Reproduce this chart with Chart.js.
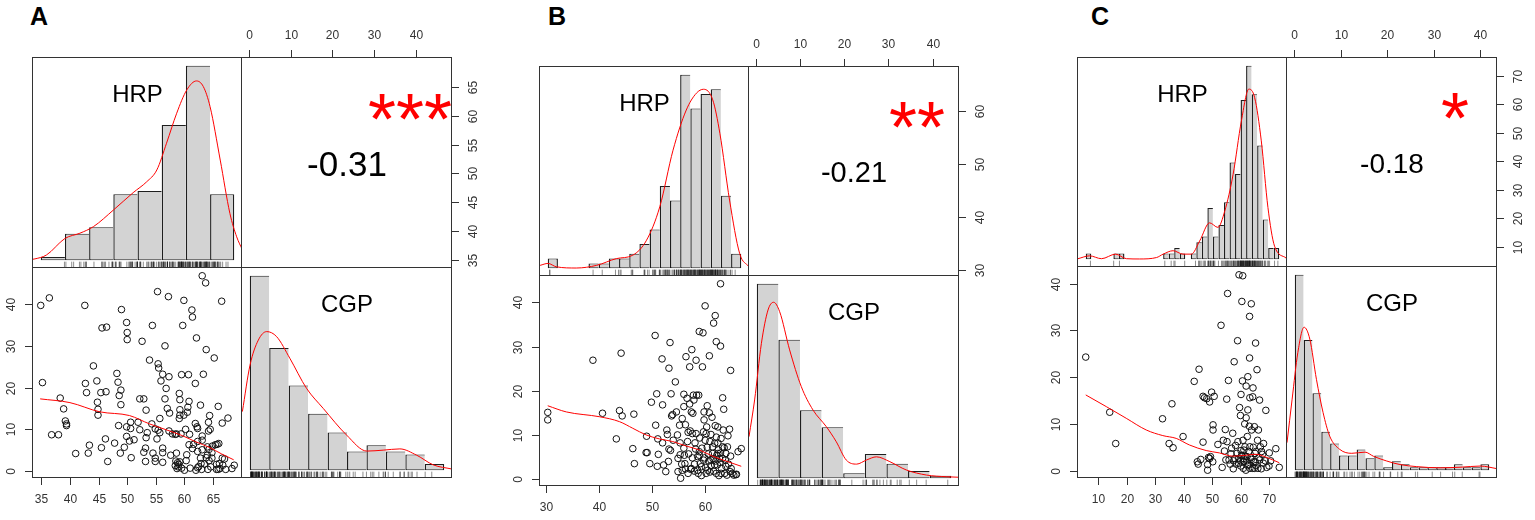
<!DOCTYPE html>
<html>
<head>
<meta charset="utf-8">
<title>HRP / CGP correlation panels</title>
<script src="https://cdn.jsdelivr.net/npm/chart.js@4.4.1/dist/chart.umd.min.js"></script>
<style>
  html, body { margin: 0; padding: 0; background: #fff; }
  #stage { position: relative; width: 1535px; height: 520px; overflow: hidden; }
  #stage canvas { position: absolute; }
  .tag { position: absolute; font: bold 25px "Liberation Sans", Arial, sans-serif; line-height: 25px; color: #000; }
</style>
</head>
<body>
<div id="stage">
  <div class="tag" style="left:30px;top:4px">A</div>
  <div class="tag" style="left:548px;top:4px">B</div>
  <div class="tag" style="left:1091px;top:4px">C</div>
</div>
<script>
// ---------- data ----------
// scatter points: [HRP, CGP]
const scatterA = [
  [34.9,39.7],[36.4,41.5],[35.2,21.2],[36.8,8.7],[38.0,8.7],[38.3,17.5],[38.9,14.9],[39.2,12.0],[39.4,11.3],[39.4,10.9],
  [41.0,4.2],[42.6,39.7],[42.7,21.0],[42.9,18.8],[43.2,4.3],[43.4,6.2],[44.1,25.2],[44.7,21.6],[44.8,16.5],[44.9,14.8],
  [44.9,13.4],[45.5,5.6],[45.6,34.3],[46.4,34.5],[45.4,18.8],[46.3,19.0],[46.2,7.7],[46.6,2.3],[47.8,6.7],[48.2,23.4],
  [48.4,21.3],[48.6,18.1],[48.9,19.4],[48.9,15.9],[48.5,10.9],[48.8,4.3],[49.0,38.7],[49.5,5.7],[49.9,35.6],[50.0,33.2],
  [50.0,31.5],[49.9,10.6],[49.9,8.3],[50.4,7.2],[50.6,11.7],[50.6,10.2],[50.7,3.2],[51.2,7.5],[51.9,11.7],[52.2,9.9],
  [52.2,17.3],[52.9,17.3],[52.6,31.1],[52.9,4.5],[53.2,5.5],[53.2,2.3],[53.3,8.0],[53.3,14.6],[53.5,9.2],[53.9,26.6],
  [54.3,11.3],[54.4,34.9],[54.5,4.3],[54.9,3.1],[54.9,2.3],[54.9,10.1],[55.2,7.7],[55.3,43.0],[55.4,25.7],[55.5,24.7],
  [55.4,9.8],[55.7,9.2],[55.7,12.6],[55.9,21.6],[56.2,23.2],[56.2,4.4],[56.2,5.5],[56.2,2.1],[56.6,30.0],[56.6,17.3],
  [56.8,19.8],[57.0,15.0],[57.2,41.8],[57.3,22.6],[57.4,13.9],[57.3,9.6],[57.6,3.8],[57.9,8.9],[58.4,1.3],[58.4,8.8],
  [58.6,4.3],[58.6,8.9],[58.8,2.0],[58.9,1.0],[59.0,1.6],[59.1,12.6],[59.2,14.7],[59.1,18.6],[59.2,17.1],[59.2,13.4],
  [59.4,8.9],[59.5,23.1],[59.5,0.7],[59.7,34.9],[59.9,40.9],[59.9,13.4],[60.0,0.2],[60.2,10.0],[60.3,2.5],[60.4,3.9],
  [60.5,14.1],[60.6,15.3],[60.7,23.1],[60.8,16.7],[60.8,6.3],[60.9,8.8],[61.0,0.7],[61.3,38.6],[61.4,36.9],[61.4,5.4],
  [61.6,6.4],[61.9,11.4],[61.9,21.0],[62.0,0.2],[62.1,31.9],[62.2,10.6],[62.3,10.2],[62.3,4.7],[62.3,7.1],[62.3,0.8],
  [62.5,1.1],[62.8,15.8],[62.8,3.1],[62.9,1.8],[63.0,0.4],[63.1,8.4],[63.1,7.4],[63.1,5.1],[63.3,23.2],[63.1,46.8],
  [63.7,45.1],[63.5,1.7],[63.8,3.2],[63.8,29.1],[64.0,5.8],[64.0,3.8],[64.1,0.4],[64.2,9.6],[64.2,11.7],[64.3,2.5],
  [64.3,5.2],[64.4,13.3],[64.5,10.0],[64.6,1.0],[64.8,4.4],[64.8,3.1],[64.9,6.0],[65.2,27.1],[65.4,6.3],[65.6,1.6],
  [65.6,0.4],[65.7,6.4],[65.9,0.4],[65.9,15.5],[66.0,6.6],[66.1,1.8],[66.2,0.6],[66.5,40.7],[66.6,11.5],[66.6,3.1],
  [66.7,1.4],[67.0,2.9],[67.2,0.4],[67.6,12.7],[68.3,0.6],[68.7,1.4],[58.7,0.6],[59.2,2.2],[58.5,2.4]
];
const scatterB = [
  [30.4,15.1],[30.4,13.4],[38.9,26.9],[40.7,14.9],[43.9,15.5],[44.4,14.3],[44.2,28.5],[43.3,9.1],[46.6,14.7],[46.4,6.9],
  [46.7,3.5],[48.9,6.0],[49.1,6.0],[49.0,9.7],[49.6,3.5],[49.9,17.4],[50.6,32.5],[50.7,12.2],[50.9,19.3],[51.1,9.1],
  [51.0,2.9],[51.2,5.6],[51.9,27.2],[52.0,16.8],[52.0,8.2],[52.2,3.2],[52.6,1.7],[52.8,11.1],[52.9,10.1],[53.1,4.0],
  [53.2,6.8],[53.2,25.1],[53.4,30.9],[53.5,6.5],[53.6,19.3],[53.7,14.3],[53.9,14.6],[54.0,8.8],[54.4,22.0],[54.6,15.2],
  [54.8,10.0],[54.9,4.7],[54.9,1.7],[55.2,12.2],[55.3,8.2],[55.3,5.5],[55.4,0.2],[55.6,3.4],[55.7,13.7],[56.0,19.2],
  [56.0,16.4],[56.0,7.0],[56.1,5.4],[56.2,3.5],[56.3,2.3],[56.3,12.3],[56.4,27.7],[56.6,18.3],[56.7,8.5],[56.8,10.6],
  [56.9,5.7],[57.1,17.0],[57.1,25.4],[57.2,10.9],[57.3,2.2],[57.4,15.2],[57.5,29.3],[57.6,10.3],[57.6,4.8],[57.7,14.9],
  [57.8,19.0],[57.9,17.9],[58.0,1.8],[58.1,8.2],[58.2,6.8],[58.3,26.9],[58.4,19.0],[58.6,5.1],[58.7,1.3],[58.8,19.0],
  [58.9,6.2],[58.9,33.4],[59.0,9.3],[59.1,3.5],[59.3,0.8],[59.4,7.0],[59.5,25.4],[59.6,33.1],[59.7,10.7],[59.8,13.4],
  [59.8,15.2],[59.9,4.8],[60.0,39.2],[60.0,8.8],[60.1,2.6],[60.2,1.3],[60.3,11.8],[60.4,16.6],[60.4,7.2],[60.6,5.7],
  [60.7,4.1],[60.8,15.0],[60.8,27.9],[60.9,8.5],[60.9,1.6],[61.1,3.0],[61.1,10.1],[61.3,14.0],[61.4,5.8],[61.5,4.6],
  [61.6,35.3],[61.6,1.8],[61.8,8.1],[61.9,37.0],[61.9,12.1],[62.0,4.1],[62.1,31.1],[62.1,9.5],[62.2,5.4],[62.3,3.2],
  [62.4,11.8],[62.4,8.2],[62.5,6.6],[62.6,0.8],[62.8,3.8],[62.9,44.2],[62.9,30.1],[62.9,5.9],[63.0,9.2],[63.1,2.4],
  [63.3,18.4],[63.3,4.7],[63.4,11.1],[63.5,15.8],[63.6,7.1],[63.7,1.3],[63.8,4.3],[63.9,2.9],[64.1,0.9],[64.3,9.8],
  [64.4,3.4],[64.6,11.3],[64.7,1.7],[64.8,24.6],[64.8,5.2],[64.9,2.4],[65.1,1.3],[65.4,0.9],[65.8,1.0],[65.9,1.1],
  [66.2,6.2],[66.8,6.9],[58.0,3.4],[58.6,2.0],[59.3,2.8],[58.9,5.4],[59.7,4.3],[61.4,7.3],[62.4,5.8],[63.3,7.3],
  [62.7,4.7],[61.8,3.2],[60.5,2.0],[63.9,5.8],[64.2,7.3],[57.4,2.4],[56.8,1.3],[55.7,2.0],[58.3,10.3],[60.2,10.3],
  [61.1,4.3],[62.1,1.3],[63.0,1.3]
];
const scatterC = [
  [5.7,24.3],[14.1,12.5],[16.2,5.8],[32.6,11.1],[35.9,14.3],[34.9,5.8],[36.3,4.9],[39.8,7.3],[43.7,19.1],[45.4,21.7],
  [46.8,15.9],[47.3,15.6],[48.1,15.4],[46.8,6.1],[44.8,1.9],[45.1,1.4],[46.0,2.4],[48.7,2.8],[48.4,1.3],[48.4,0.1],
  [49.1,14.7],[49.1,2.6],[49.4,3.0],[49.8,16.8],[50.3,9.8],[50.3,8.7],[50.7,15.9],[50.2,1.9],[52.0,5.6],[53.1,31.1],
  [53.5,0.7],[53.9,6.5],[54.3,4.2],[54.6,8.8],[55.1,15.3],[55.2,6.2],[55.4,37.9],[55.7,19.3],[55.9,2.3],[56.3,1.4],
  [56.6,3.6],[56.8,4.8],[57.2,8.0],[57.4,0.4],[57.7,23.3],[57.9,2.6],[58.2,5.4],[58.4,1.4],[58.7,3.7],[58.9,27.8],
  [59.0,6.2],[59.3,2.6],[59.4,41.9],[59.6,13.5],[59.9,11.8],[60.0,1.0],[60.1,16.3],[60.1,4.3],[60.3,3.2],[60.4,36.2],
  [60.6,19.2],[60.7,41.7],[60.8,6.5],[60.9,0.5],[61.1,1.9],[61.4,10.0],[61.5,5.1],[61.7,3.1],[61.9,18.1],[61.9,11.3],
  [62.2,2.1],[62.3,7.3],[62.4,1.1],[62.5,20.1],[62.5,13.0],[62.8,4.1],[63.0,9.5],[63.1,33.0],[63.1,24.1],[63.2,15.6],
  [63.2,0.5],[63.5,2.8],[63.7,35.7],[63.8,8.7],[64.2,15.8],[64.3,17.7],[64.4,5.0],[64.5,1.9],[64.8,9.4],[65.0,3.7],
  [65.2,27.3],[65.4,1.1],[65.7,21.6],[65.9,6.5],[66.2,8.7],[66.4,2.8],[66.6,15.1],[66.9,5.1],[67.2,0.4],[67.6,3.5],
  [68.0,5.8],[68.6,2.1],[68.8,12.9],[69.1,0.7],[69.9,1.0],[70.0,3.8],[70.5,2.1],[72.3,4.7],[73.5,0.7],[59.2,1.6],
  [61.0,2.6],[62.8,1.4],[63.7,2.4],[65.1,1.9],[66.0,0.5],[66.7,2.3],[64.2,0.5],[61.8,0.1],[59.9,2.1],[61.1,4.4],
  [63.2,5.1],[65.3,4.1],[60.4,3.3],[67.9,1.6],[57.5,2.1],[54.8,2.3],[62.2,3.0],[64.8,0.5],[67.3,4.1]
];

// smoothed (lowess) trend in the scatter cells: [HRP, CGP]
const loessA = [[34.8,17.3],[40,16.4],[45.2,14.2],[50.4,13.3],[53.9,11.3],[56.8,9.9],[59.6,8.5],[62,7.0],[64.3,5.7],[66.5,4.1],[68.6,2.7]];
const loessB = [[30.4,16.6],[33.9,15.2],[40.2,14.1],[43.9,13.0],[46.4,11.5],[48.9,10.0],[51.4,9.1],[53.9,8.5],[56.4,7.5],[58.9,6.6],[61.4,5.2],[63.9,4.1],[66.8,2.9]];
const loessC = [[5.7,16.2],[12.9,13.7],[19.9,11.2],[26.9,8.7],[32.7,7.5],[37.4,6.9],[42.0,5.5],[47.9,4.3],[52.5,3.8],[57.2,3.1],[61.8,3.3],[65.3,3.5],[70.0,2.6],[73.5,1.7]];

// histogram breaks and counts
const hrpBreaksA = [30,35,40,45,50,55,60,65,70];
const hrpCountsA = [1,8,10,20,21,41,59,20];
const cgpBreaksA = [0,5,10,15,20,25,30,35,40,45,50];
const cgpCountsA = [62,39,27,18,12,6,8,6,5,2];

const hrpBreaksB = [30,32,34,36,38,40,42,44,46,48,50,52,54,56,58,60,62,64,66,68];
const hrpCountsB = [2,0,0,0,1,1,2,2,3,5,8,17,14,40,33,36,37,15,3];
const cgpBreaksB = [0,5,10,15,20,25,30,35,40,45];
const cgpCountsB = [80,57,28,21,2,10,6,3,1];

const hrpBreaksC = [4,6,8,10,12,14,16,18,20,22,24,26,28,30,32,34,36,38,40,42,44,46,48,50,52,54,56,58,60,62,64,66,68,70,72,74];
const hrpCountsC = [1,0,0,0,0,1,1,0,0,0,0,0,0,0,1,1,2,1,0,1,3,4,9,4,6,10,17,15,28,34,29,20,7,2,2];
const cgpBreaksC = [0,2,4,6,8,10,12,14,16,18,20,22,24,26,28,30,32,34,36,38,40,42,44];
const cgpCountsC = [66,44,26,13,9,5,5,7,4,5,1,3,2,1,1,1,1,1,2,1,1,2];

// kernel density curves, in count units of the matching histogram: [value, height]
const hrpDensA = [[28.4,0.3],[28.8,0.4],[31.2,1.6],[35.0,6.6],[38.1,8.2],[40.9,10.2],[45.0,15.2],[49.1,20.5],[51.9,23.8],[54.0,27.4],[56.0,35.5],[58.1,44.6],[60.2,51.7],[62.2,54.4],[63.6,52.7],[65.0,46.6],[67.1,30.4],[69.1,14.2],[70.5,7.1],[71.7,3.1]];
const cgpDensA = [[-1.9,18.7],[0.06,33.5],[2.2,41.5],[4.35,44.2],[6.9,42.6],[10.3,35.7],[14.6,26.1],[18.9,19.7],[24.9,11.2],[30.1,6.1],[34.3,6.4],[38.6,6.8],[42.9,4.8],[47.2,1.7],[51.9,0.4]];
const hrpDensB = [[28.5,0.6],[30.05,1.0],[31.7,0.3],[35.6,0.05],[39.6,0.6],[43.5,2.0],[46.7,2.7],[49.4,5.8],[52.0,12.7],[54.6,24.4],[57.2,32.7],[59.2,36.2],[60.6,37.0],[62.4,34.8],[63.8,27.9],[65.7,14.1],[67.7,3.0],[69.5,0.3]];
const cgpDensB = [[-1.8,17.1],[-0.5,32.2],[1.07,55.5],[2.6,69.2],[3.9,72.4],[5.3,68.5],[7.6,52.8],[10.3,37.7],[13.0,28.1],[16.1,21.2],[18.4,15.0],[20.7,7.5],[23.1,5.8],[25.4,7.5],[27.7,8.8],[30.8,6.8],[34.6,3.4],[39.3,1.3],[43.9,0.6],[46.8,0.4]];
const hrpDensC = [[1.2,0.1],[5.4,0.6],[9.7,0.1],[14.8,0.9],[18.7,0.1],[23.5,0.05],[29.6,0.3],[32.0,0.9],[35.6,1.5],[39.2,0.9],[42.2,0.9],[45.2,3.2],[48.8,6.4],[51.8,5.6],[54.3,8.5],[57.3,14.9],[60.3,24.3],[63.0,29.9],[65.1,28.4],[67.5,20.8],[69.9,9.1],[72.3,2.3],[76.5,0.2]];
const cgpDensC = [[-1.76,9.3],[-0.6,24.0],[0.7,39.8],[2.1,48.3],[3.4,44.3],[4.9,30.7],[6.4,19.5],[7.9,11.5],[10.2,7.0],[12.9,5.7],[15.9,6.1],[17.8,4.7],[20.8,3.1],[23.8,1.9],[27.6,1.2],[32.9,0.8],[37.4,1.0],[42.0,1.4],[45.8,0.5]];

// correlation text and significance stars
const corrLabels = ['-0.31', '-0.21', '-0.18'];
const starLabels = ['***', '**', '*'];

// tick labels
const hrpTicksA = [35,40,45,50,55,60,65];
const hrpTicksB = [30,40,50,60];
const hrpTicksC = [10,20,30,40,50,60,70];
const cgpTicks = [0,10,20,30,40];

// ---------- layout ----------
const FONT = '"Liberation Sans", Arial, Helvetica, sans-serif';
const M = 40;               // canvas margin round each cell, room for axes
const stage = document.getElementById('stage');
const decoMap = new WeakMap();

// cell edges of each panel: x = [left, middle, right], y = [top, middle, bottom]
const panelBoxes = [
  { x: [33, 242, 452], y: [58, 268, 478] },
  { x: [540, 749, 959], y: [67, 276, 486] },
  { x: [1078, 1287, 1497], y: [58, 267, 478] }
];

Chart.defaults.font.family = FONT;

// frame, panel labels, correlation text and axes drawn with the chart's scales
const pairDeco = {
  id: 'pairDeco',
  afterDraw(chart) {
    const d = decoMap.get(chart.canvas);
    if (!d) return;
    const ctx = chart.ctx, a = chart.chartArea;
    ctx.save();
    ctx.fillStyle = '#000';
    ctx.textAlign = 'center';
    ctx.textBaseline = 'alphabetic';
    if (d.label) {
      ctx.font = '24px ' + FONT;
      ctx.fillText(d.label, (a.left + a.right) / 2, a.top + a.height * 0.17 + 0.358 * 24);
    }
    if (d.corr) {
      ctx.font = d.corrSize + 'px ' + FONT;
      ctx.fillText(d.corr, (a.left + a.right) / 2, (a.top + a.bottom) / 2 + 0.358 * d.corrSize);
    }
    if (d.stars) {
      const s = 72;
      ctx.font = s + 'px ' + FONT;
      ctx.fillStyle = '#ff0000';
      ctx.fillText(d.stars, a.left + 0.8 * a.width, a.bottom - 0.79 * a.height + 0.575 * s);
    }
    ctx.strokeStyle = '#333';
    ctx.lineWidth = 1;
    ctx.strokeRect(a.left - 0.5, a.top - 0.5, a.width, a.height);

    ctx.fillStyle = '#333';
    ctx.font = '12px ' + FONT;
    ctx.textBaseline = 'middle';
    (d.axes || []).forEach(ax => {
      const sc = chart.scales[ax.scale];
      ax.ticks.forEach(v => {
        const p = Math.round(sc.getPixelForValue(v)) + 0.5;
        ctx.beginPath();
        if (ax.side === 'bottom') { ctx.moveTo(p, a.bottom); ctx.lineTo(p, a.bottom + 7); }
        if (ax.side === 'top') { ctx.moveTo(p, a.top - 1); ctx.lineTo(p, a.top - 8); }
        if (ax.side === 'left') { ctx.moveTo(a.left - 1, p); ctx.lineTo(a.left - 8, p); }
        if (ax.side === 'right') { ctx.moveTo(a.right, p); ctx.lineTo(a.right + 7, p); }
        ctx.stroke();
        if (ax.side === 'bottom') ctx.fillText(String(v), p, a.bottom + 22);
        if (ax.side === 'top') ctx.fillText(String(v), p, a.top - 22);
        if (ax.side === 'left' || ax.side === 'right') {
          ctx.save();
          ctx.translate(ax.side === 'left' ? a.left - 21 : a.right + 22, p);
          ctx.rotate(-Math.PI / 2);
          ctx.fillText(String(v), 0, 0);
          ctx.restore();
        }
      });
    });
    ctx.restore();
  }
};
Chart.register(pairDeco);

function padRange(vals) {
  const lo = Math.min(...vals), hi = Math.max(...vals), d = hi - lo;
  return { min: lo - 0.04 * d, max: hi + 0.04 * d };
}

function addCanvas(x, y, w, h) {
  const c = document.createElement('canvas');
  c.width = w + 2 * M;
  c.height = h + 2 * M;
  c.style.left = (x - M) + 'px';
  c.style.top = (y - M) + 'px';
  c.style.width = c.width + 'px';
  c.style.height = c.height + 'px';
  stage.appendChild(c);
  return c;
}

function baseOptions(xr, yr, xBreaks) {
  const x = { type: 'linear', display: false, offset: false, min: xr.min, max: xr.max, grid: { offset: false } };
  if (xBreaks) x.afterBuildTicks = s => { s.ticks = xBreaks.map(v => ({ value: v })); };
  return {
    responsive: false,
    animation: false,
    events: [],
    devicePixelRatio: 1,
    layout: { padding: M },
    plugins: { legend: { display: false }, tooltip: { enabled: false } },
    scales: { x, y: { type: 'linear', display: false, min: yr.min, max: yr.max } }
  };
}

// diagonal cell: histogram + density + rug
function histCell(x, y, w, h, breaks, counts, dens, rugVals, label) {
  const span = breaks[breaks.length - 1] - breaks[0];
  const top = Math.max(...counts);
  const xr = { min: breaks[0] - 0.04 * span, max: breaks[breaks.length - 1] + 0.04 * span };
  const yr = { min: -0.04 * top, max: 1.04 * top };
  const bars = [];
  counts.forEach((n, i) => {
    if (n > 0) bars.push({ x: (breaks[i] + breaks[i + 1]) / 2, y: n, bin: i });
  });
  const rugY = yr.min + 0.015 * (yr.max - yr.min);
  const canvas = addCanvas(x, y, w, h);
  decoMap.set(canvas, { label });
  new Chart(canvas, {
    type: 'bar',
    data: {
      datasets: [
        {
          type: 'bar',
          data: bars,
          backgroundColor: '#d3d3d3',
          borderColor: '#1e1e1e',
          borderWidth: c => {
            const b = bars[c.dataIndex];
            const joined = b && counts[b.bin + 1] > 0;
            return { top: 1, left: 1.4, bottom: 1, right: joined ? 0 : 1.4 };
          },
          borderSkipped: false,
          barPercentage: 1,
          categoryPercentage: 1,
          inflateAmount: 0,
          order: 3
        },
        {
          type: 'line',
          data: dens.map(p => ({ x: p[0], y: p[1] })),
          borderColor: '#ff0000',
          borderWidth: 1,
          pointRadius: 0,
          cubicInterpolationMode: 'monotone',
          order: 2
        },
        {
          type: 'scatter',
          data: rugVals.map(v => ({ x: v, y: rugY })),
          pointStyle: 'line',
          rotation: 90,
          pointRadius: 3.2,
          borderWidth: 0.6,
          borderColor: 'rgba(0,0,0,0.75)',
          order: 1
        }
      ]
    },
    options: baseOptions(xr, yr, breaks)
  });
}

// upper cell: correlation value, stars, top and right axes
function corrCell(x, y, w, h, xr, yr, deco) {
  const canvas = addCanvas(x, y, w, h);
  decoMap.set(canvas, deco);
  new Chart(canvas, {
    type: 'scatter',
    data: { datasets: [{ data: [] }] },
    options: baseOptions(xr, yr)
  });
}

// lower cell: scatter + smoother, left and bottom axes
function scatterCell(x, y, w, h, pts, smooth, xr, yr, deco) {
  const canvas = addCanvas(x, y, w, h);
  decoMap.set(canvas, deco);
  new Chart(canvas, {
    type: 'scatter',
    data: {
      datasets: [
        {
          data: pts.map(p => ({ x: p[0], y: p[1] })),
          pointStyle: 'circle',
          pointRadius: 3.3,
          borderWidth: 1,
          borderColor: '#111',
          backgroundColor: 'rgba(0,0,0,0)',
          order: 2
        },
        {
          type: 'line',
          data: smooth.map(p => ({ x: p[0], y: p[1] })),
          borderColor: '#ff0000',
          borderWidth: 1,
          pointRadius: 0,
          cubicInterpolationMode: 'monotone',
          order: 1
        }
      ]
    },
    options: baseOptions(xr, yr)
  });
}

const panels = [
  { pts: scatterA, smooth: loessA, hb: hrpBreaksA, hc: hrpCountsA, hd: hrpDensA, cb: cgpBreaksA, cc: cgpCountsA, cd: cgpDensA, hrpTicks: hrpTicksA, corrSize: 35 },
  { pts: scatterB, smooth: loessB, hb: hrpBreaksB, hc: hrpCountsB, hd: hrpDensB, cb: cgpBreaksB, cc: cgpCountsB, cd: cgpDensB, hrpTicks: hrpTicksB, corrSize: 29 },
  { pts: scatterC, smooth: loessC, hb: hrpBreaksC, hc: hrpCountsC, hd: hrpDensC, cb: cgpBreaksC, cc: cgpCountsC, cd: cgpDensC, hrpTicks: hrpTicksC, corrSize: 28 }
];

panels.forEach((p, i) => {
  const box = panelBoxes[i];
  const [xa, xb, xc] = box.x, [ya, yb, yc] = box.y;
  const hrp = p.pts.map(q => q[0]);
  const cgp = p.pts.map(q => q[1]);
  const hrpRange = padRange(hrp), cgpRange = padRange(cgp);

  histCell(xa, ya, xb - xa, yb - ya, p.hb, p.hc, p.hd, hrp, 'HRP');
  corrCell(xb, ya, xc - xb, yb - ya, cgpRange, hrpRange, {
    corr: corrLabels[i], corrSize: p.corrSize, stars: starLabels[i],
    axes: [{ scale: 'x', side: 'top', ticks: cgpTicks }, { scale: 'y', side: 'right', ticks: p.hrpTicks }]
  });
  scatterCell(xa, yb, xb - xa, yc - yb, p.pts, p.smooth, hrpRange, cgpRange, {
    axes: [{ scale: 'x', side: 'bottom', ticks: p.hrpTicks }, { scale: 'y', side: 'left', ticks: cgpTicks }]
  });
  histCell(xb, yb, xc - xb, yc - yb, p.cb, p.cc, p.cd, cgp, 'CGP');
});
</script>
</body>
</html>
